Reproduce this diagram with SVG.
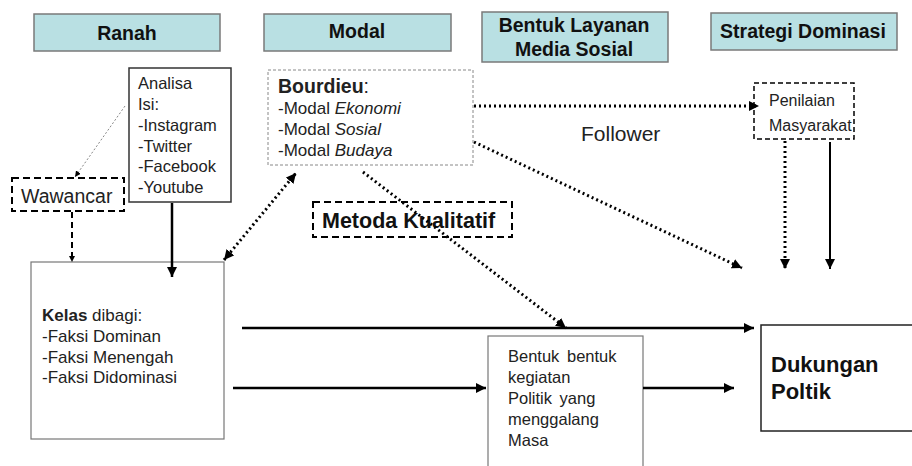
<svg xmlns="http://www.w3.org/2000/svg" width="912" height="466" viewBox="0 0 912 466">
<style>
.hdr{fill:#b9e0e3;stroke:#7a7a7a;stroke-width:1.5}
.ht{font-family:"Liberation Sans",Arial,sans-serif;font-weight:bold;font-size:19.5px;fill:#111;text-anchor:middle}
.t{font-family:"Liberation Sans",Arial,sans-serif;font-size:16.5px;fill:#222}
.dot{fill:none;stroke:#000;stroke-width:3;stroke-dasharray:2 3}
</style>
<defs>
<marker id="ah" viewBox="0 0 10 10" refX="10" refY="5" markerWidth="6" markerHeight="6" markerUnits="userSpaceOnUse" orient="auto"><path d="M0,0 L10,5 L0,10 z" fill="#000"/></marker>
<marker id="ahb" viewBox="0 0 10 10" refX="10" refY="5" markerWidth="10" markerHeight="10" markerUnits="userSpaceOnUse" orient="auto-start-reverse"><path d="M0,0 L10,5 L0,10 z" fill="#000"/></marker>
</defs>
<rect width="912" height="466" fill="#fff"/>
<g id="h-ranah"><rect class="hdr" x="34" y="14" width="186" height="37"/><text class="ht" x="127" y="40">Ranah</text></g>
<g id="h-modal"><rect class="hdr" x="264" y="14" width="187" height="37"/><text class="ht" x="357" y="38">Modal</text></g>
<g id="h-bentuk"><rect class="hdr" x="482" y="12" width="186" height="50"/><text class="ht" x="574" y="32">Bentuk Layanan</text><text class="ht" x="574" y="56">Media Sosial</text></g>
<g id="h-strategi"><rect class="hdr" x="711" y="13" width="186" height="37"/><text class="ht" x="803" y="38">Strategi Dominasi</text></g>

<g id="analisa"><rect x="129" y="68" width="102" height="134" fill="#fff" stroke="#333" stroke-width="1.5"/>
<text class="t" x="138" y="89">Analisa</text><text class="t" x="138" y="110">Isi:</text><text class="t" x="138" y="131">-Instagram</text><text class="t" x="138" y="152">-Twitter</text><text class="t" x="138" y="172">-Facebook</text><text class="t" x="138" y="193">-Youtube</text></g>

<g id="bourdieu"><rect x="268" y="70" width="205" height="95" fill="#fff" stroke="#888" stroke-width="1" stroke-dasharray="3 2"/>
<text class="t" x="278" y="93" style="font-size:19.5px"><tspan font-weight="bold">Bourdieu</tspan>:</text>
<text class="t" x="278" y="114" style="font-size:17px">-Modal <tspan font-style="italic">Ekonomi</tspan></text>
<text class="t" x="278" y="135" style="font-size:17px">-Modal <tspan font-style="italic">Sosial</tspan></text>
<text class="t" x="278" y="156" style="font-size:17px">-Modal <tspan font-style="italic">Budaya</tspan></text></g>

<g id="wawancar"><rect x="12" y="178" width="112" height="33" fill="#fff" stroke="#000" stroke-width="2" stroke-dasharray="7 4"/><text class="t" x="21" y="203" style="font-size:19.5px">Wawancar</text></g>

<g id="metoda"><rect x="313" y="202" width="199" height="35" fill="none" stroke="#000" stroke-width="2" stroke-dasharray="7 4"/><text class="t" x="322" y="228" style="font-size:21.5px;font-weight:bold;fill:#111">Metoda Kualitatif</text></g>

<g id="kelas"><rect x="31" y="262" width="193" height="177" fill="#fff" stroke="#777" stroke-width="1.2"/>
<text class="t" x="42" y="321" style="font-size:17px"><tspan font-weight="bold">Kelas</tspan> dibagi:</text><text class="t" x="42" y="342" style="font-size:17px">-Faksi Dominan</text><text class="t" x="42" y="363" style="font-size:17px">-Faksi Menengah</text><text class="t" x="42" y="383" style="font-size:17px">-Faksi Didominasi</text></g>

<g id="penilaian"><rect x="754" y="83" width="100" height="56" fill="none" stroke="#000" stroke-width="1.5" stroke-dasharray="5 3"/><text class="t" x="769" y="106" style="font-size:16px">Penilaian</text><text class="t" x="769" y="131" style="font-size:16px">Masyarakat</text></g>

<g id="follower"><text class="t" x="581" y="141" style="font-size:21px">Follower</text></g>

<g id="kegiatan"><rect x="488" y="336" width="155" height="140" fill="#fff" stroke="#777" stroke-width="1.2"/>
<text class="t" x="508" y="362" word-spacing="3">Bentuk bentuk</text><text class="t" x="508" y="383">kegiatan</text><text class="t" x="508" y="404" word-spacing="3">Politik yang</text><text class="t" x="508" y="425">menggalang</text><text class="t" x="508" y="446">Masa</text></g>

<g id="dukungan"><rect x="761" y="325" width="160" height="106" fill="#fff" stroke="#222" stroke-width="1.5"/><text class="t" x="771" y="372" style="font-size:22px;font-weight:bold;fill:#111">Dukungan</text><text class="t" x="771" y="399" style="font-size:22px;font-weight:bold;fill:#111">Poltik</text></g>

<g id="connectors">
<line x1="125" y1="106" x2="75" y2="177" stroke="#888" stroke-width="1" stroke-dasharray="2 2" marker-end="url(#ah)"/>
<line x1="72" y1="212" x2="72" y2="262" stroke="#000" stroke-width="2" stroke-dasharray="6 4" marker-end="url(#ah)"/>
<line x1="172" y1="203" x2="172" y2="277" stroke="#000" stroke-width="2.5" marker-end="url(#ahb)"/>
<line class="dot" x1="224" y1="260" x2="296" y2="173" marker-start="url(#ahb)" marker-end="url(#ahb)"/>
<line class="dot" x1="363" y1="172" x2="566" y2="328" stroke-width="2.5" marker-end="url(#ahb)"/>
<line class="dot" x1="474" y1="142" x2="742" y2="268" stroke-width="2.5" marker-end="url(#ahb)"/>
<line class="dot" x1="474" y1="106" x2="759" y2="106" stroke-width="2.5" marker-end="url(#ahb)"/>
<line class="dot" x1="785" y1="141" x2="785" y2="269" stroke-width="3.5" marker-end="url(#ahb)"/>
<line x1="830" y1="142" x2="830" y2="269" stroke="#000" stroke-width="2" marker-end="url(#ahb)"/>
<line x1="242" y1="328" x2="754" y2="328" stroke="#000" stroke-width="2.5" marker-end="url(#ahb)"/>
<line x1="233" y1="388" x2="486" y2="388" stroke="#000" stroke-width="2.5" marker-end="url(#ahb)"/>
<line x1="643" y1="388" x2="734" y2="388" stroke="#000" stroke-width="2.5" marker-end="url(#ahb)"/>
</g>
</svg>
